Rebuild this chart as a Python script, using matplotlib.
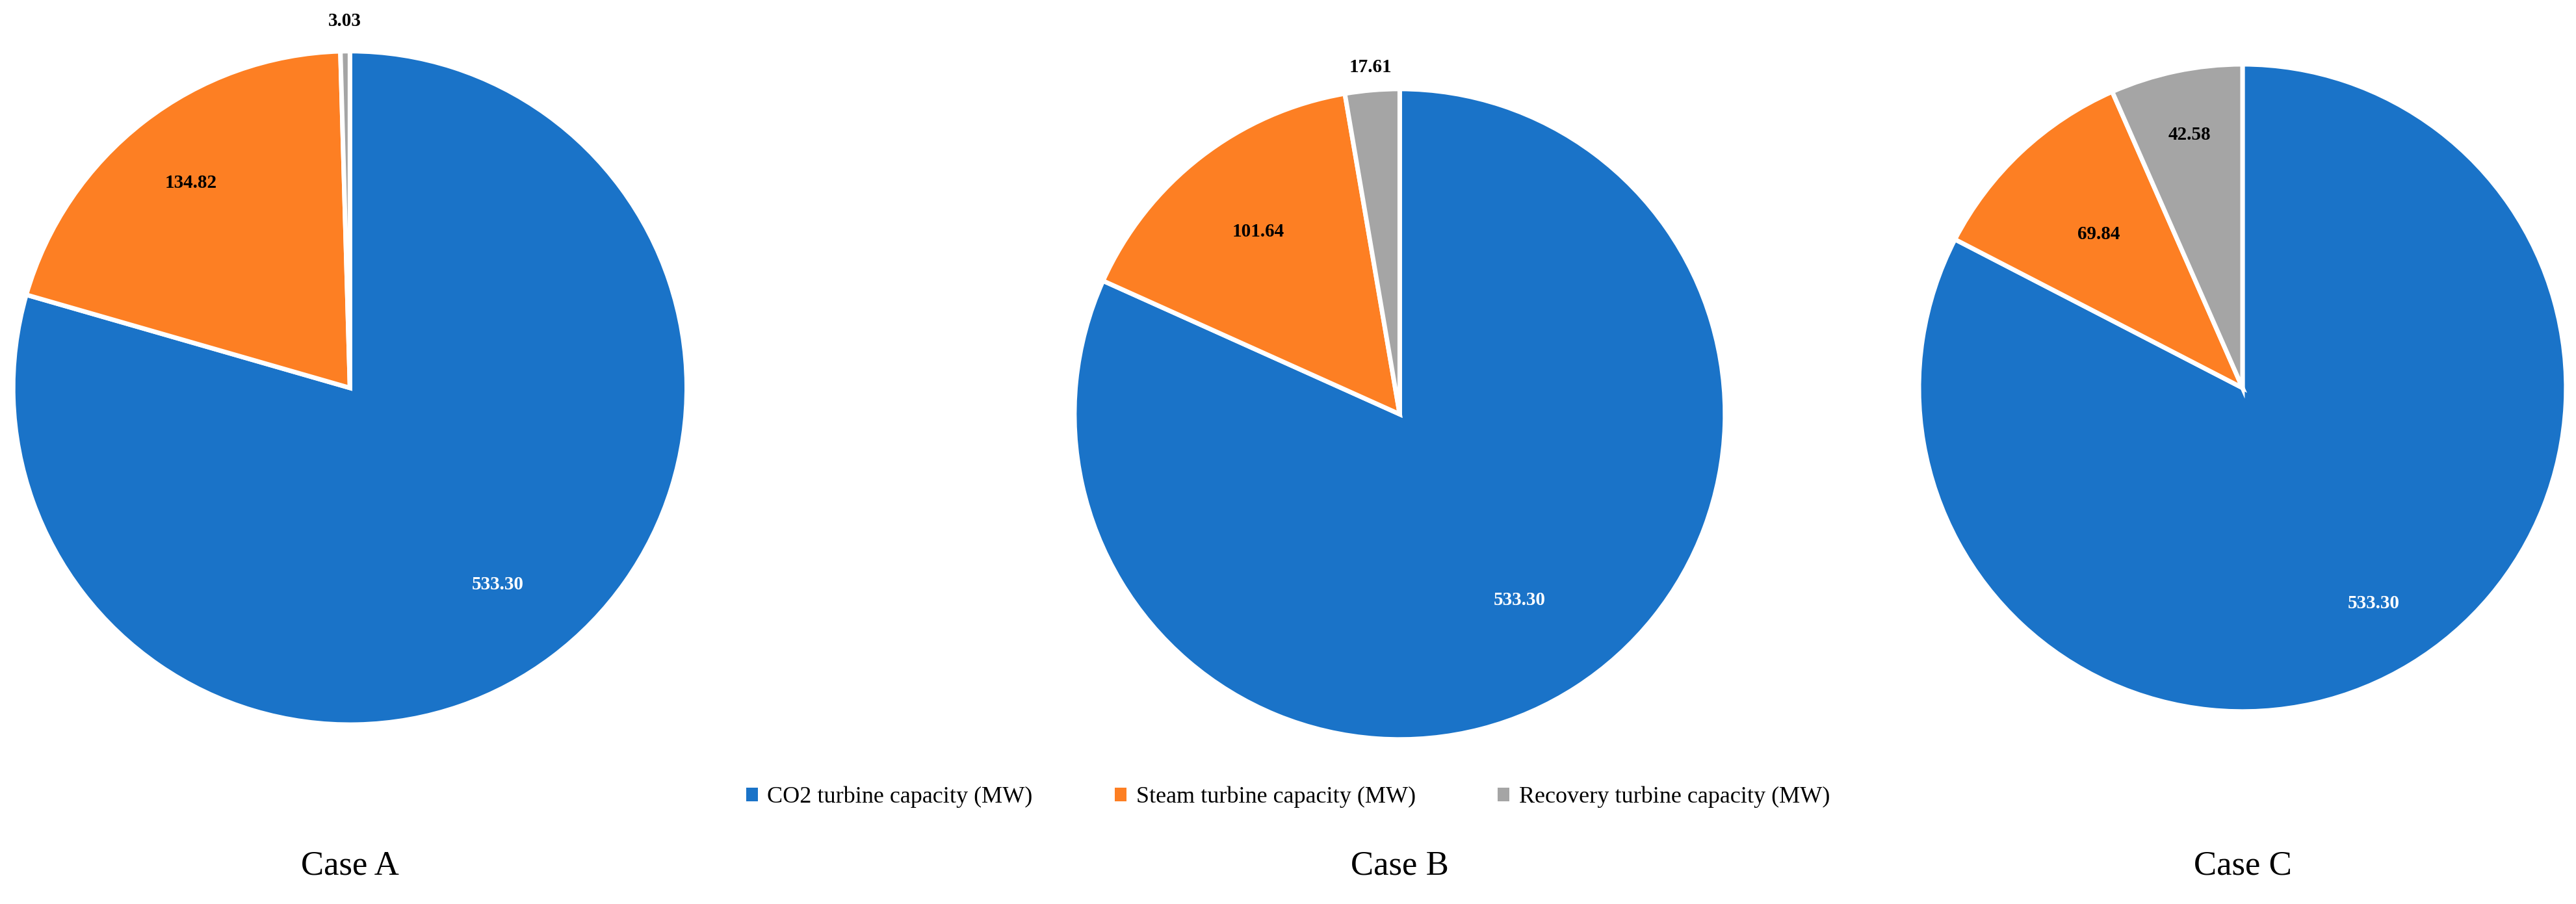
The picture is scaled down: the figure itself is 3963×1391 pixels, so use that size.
import matplotlib
matplotlib.use("Agg")
import matplotlib.pyplot as plt
import numpy as np
from matplotlib.patches import Patch

cases = ["Case A", "Case B", "Case C"]
series = ["CO2 turbine capacity (MW)", "Steam turbine capacity (MW)",
          "Recovery turbine capacity (MW)"]
co2 = [533.30, 533.30, 533.30]
steam = [134.82, 101.64, 69.84]
recovery = [3.03, 17.61, 42.58]

colors = ["#1a73c8", "#fd7f23", "#a5a5a5"]
label_colors = ["white", "black", "black"]
# label radius per slice, per case
label_r = [[0.73, 0.77, 1.09], [0.68, 0.71, 1.07], [0.78, 0.65, 0.80]]
# pie centres / radii in figure pixels of 1568x550 view
centers = [(213, 236, 205), (852, 252, 198), (1365, 236, 197)]
W, H = 1568, 550

fig = plt.figure(figsize=(39.63, 13.91), dpi=100)
plt.rcParams["font.family"] = ["Liberation Serif", "DejaVu Serif"]

for i, (cx, cy, r) in enumerate(centers):
    rw, rh = r / W, r / H
    ax = fig.add_axes([cx / W - rw, 1 - cy / H - rh, 2 * rw, 2 * rh])
    vals = [co2[i], steam[i], recovery[i]]
    ax.pie(vals, colors=colors, startangle=90, counterclock=False, radius=1,
           wedgeprops=dict(edgecolor="white", linewidth=5))
    ax.set_xlim(-1, 1)
    ax.set_ylim(-1, 1)
    ax.set_aspect("equal")
    ax.set_clip_on(False)
    total = sum(vals)
    start = 90.0
    for j, v in enumerate(vals):
        sweep = 360 * v / total
        mid = np.deg2rad(start - sweep / 2)
        start -= sweep
        rr = label_r[i][j]
        ax.text(rr * np.cos(mid), rr * np.sin(mid), f"{v:.2f}", ha="center",
                va="center", fontsize=21, fontweight="bold",
                color=label_colors[j], clip_on=False)
    ax.text(0.5, 0, "", transform=ax.transAxes)

case_x = [213, 852, 1365]
for x, name in zip(case_x, cases):
    fig.text(x / W, 1 - 527 / H, name, ha="center", va="center", fontsize=38)

handles = [Patch(facecolor=c) for c in colors]
fig.legend(handles, series, loc="center", bbox_to_anchor=(0.5, 1 - 485 / H),
           ncol=3, frameon=False, fontsize=26, handlelength=0.5,
           handleheight=0.5, columnspacing=3.5, handletextpad=0.4)

fig.savefig("out.png", dpi=100)
